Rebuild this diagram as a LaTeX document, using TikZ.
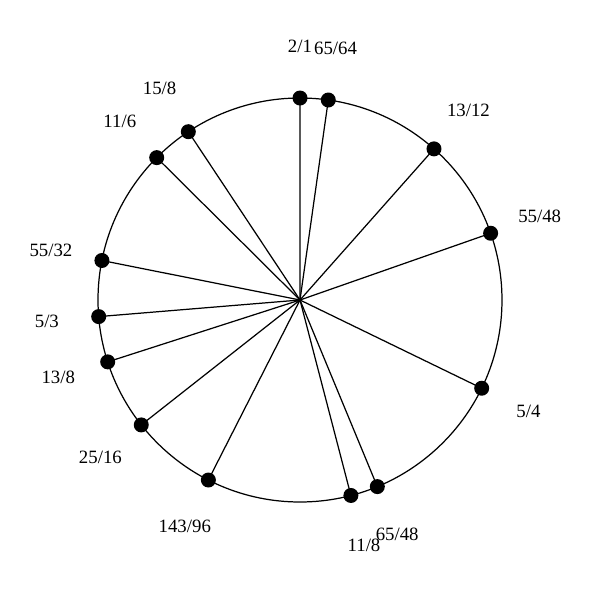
\documentclass[tikz,border=0pt]{standalone}
\usepackage{fontspec}
\setmainfont{Liberation Serif}
\usepackage{tikz}
\tikzset{tone/.style={circle,fill=black,inner sep=0pt,minimum size=0.3cm}}
\tikzset{ratio/.style={font=\fontsize{10.7}{12}\selectfont,inner sep=0pt}}
\tikzset{spoke/.style={line width=0.7pt}}

\begin{document}
\begin{tikzpicture}
            \useasboundingbox (-6,-6) rectangle (6,6);
            % draw the circle
            \coordinate (c) at (0,0);
            \draw[spoke] (c) circle (4.04);
            % draw the tones (angle from log2 of the ratio)
            \foreach \num/\den/\name in {2/1/a,65/64/b,13/12/c1,55/48/d,5/4/e,65/48/f,11/8/g,143/96/h,25/16/i,13/8/j,5/3/k,55/32/l,11/6/m,15/8/n}{
                \pgfmathsetmacro\ang{90-360*ln(\num/\den)/ln(2)}
                \node[tone] (\name) at (\ang:4.04) {};
                \draw[spoke] (c) -- (\name.center);
                \node[ratio] (\name-lab) at (\ang:5.08) {\num/\den};
            }
        \end{tikzpicture}
\end{document}
